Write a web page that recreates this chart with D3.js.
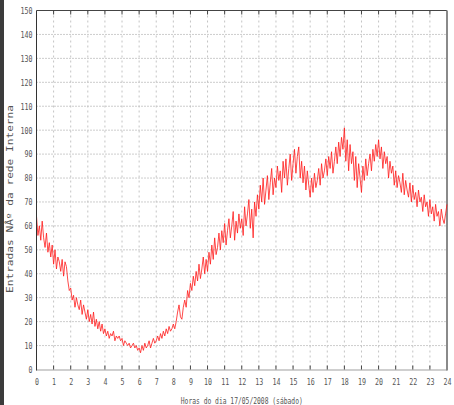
<!DOCTYPE html>
<html>
<head>
<meta charset="utf-8">
<script src="https://cdn.jsdelivr.net/npm/d3@7"></script>
<style>
  body { margin: 0; background: #fff; }
  svg text { font-family: "DejaVu Sans Mono", monospace; fill: #555; }
</style>
</head>
<body>
<div id="chart"></div>
<script>
var svgWidth = 454;
var svgHeight = 405;

var margin = { top: 10.5, right: 7, bottom: 35.5, left: 36.5 };
var width = svgWidth - margin.left - margin.right;
var height = svgHeight - margin.top - margin.bottom;

// tick labels
var hourTicks = d3.range(0, 25);
var countTicks = [0, 10, 20, 30, 40, 50, 60, 70, 80, 90, 100, 110, 120, 130, 140, 150];

// one reading every 5 minutes, 00:00 to 24:00
var sampleMinutes = 5;
var entradas = [
  64, 56, 60, 54, 62, 55, 51, 57, 49, 53, 47, 52,
  44, 50, 42, 47, 45, 41, 46, 39, 45, 43, 37, 33,
  34, 29, 31, 26, 30, 27, 25, 29, 23, 27, 24, 21,
  25, 20, 23, 19, 24, 18, 21, 17, 20, 16, 19, 15,
  17, 14, 16, 13, 15, 14, 16, 12, 14, 13, 14, 12,
  13, 10, 12, 11, 10, 11, 9, 10, 11, 9, 10, 8,
  9, 7, 10, 8, 11, 9, 10, 12, 9, 11, 13, 11,
  12, 14, 12, 15, 13, 16, 14, 17, 15, 18, 16, 17,
  19, 17, 20, 24, 27, 22, 21, 26, 29, 26, 33, 30,
  36, 33, 39, 35, 41, 37, 44, 38, 42, 47, 40, 46,
  41, 49, 44, 52, 46, 55, 48, 51, 57, 50, 58, 53,
  61, 52, 58, 63, 55, 60, 66, 54, 62, 57, 65, 59,
  63, 56, 68, 60, 65, 71, 59, 67, 55, 70, 64, 73,
  67, 77, 70, 80, 69, 75, 81, 71, 78, 84, 73, 80,
  76, 85, 79, 83, 74, 87, 80, 88, 77, 84, 90, 79,
  86, 92, 82, 89, 93, 80, 87, 78, 85, 75, 83, 77,
  72, 80, 74, 82, 76, 79, 84, 77, 86, 80, 83, 88,
  81, 89, 84, 91, 82, 87, 93, 86, 95, 89, 97, 92,
  101, 87, 96, 83, 94, 86, 91, 79, 89, 76, 86, 80,
  74, 85, 79, 88, 81, 86, 90, 83, 92, 87, 94, 89,
  96, 88, 93, 84, 91, 86, 89, 80, 87, 82, 85, 77,
  83, 76, 81, 78, 74, 82, 73, 79, 75, 72, 78, 70,
  77, 71, 74, 68, 75, 70, 72, 66, 73, 68, 70, 64,
  71, 65, 68, 62, 69, 64, 66, 60, 67, 63, 61, 65,
  69
];

var xLabel = "Horas do dia 17/05/2008 (sábado)";
var yLabel = "Entradas NÂº da rede Interna";

var svg = d3.select("#chart")
  .append("svg")
  .attr("width", svgWidth)
  .attr("height", svgHeight);

// dark strip on the left edge
svg.append("rect")
  .attr("x", 0).attr("y", 0)
  .attr("width", 4).attr("height", svgHeight)
  .attr("fill", "#3b3b3b");

var chartGroup = svg.append("g")
  .attr("transform", `translate(${margin.left}, ${margin.top})`);

var x = d3.scaleLinear().domain([0, 24]).range([0, width]);
var y = d3.scaleLinear().domain([0, 150]).range([height, 0]);

// grid
chartGroup.append("g")
  .selectAll("line")
  .data(countTicks.slice(1, -1))
  .enter().append("line")
  .attr("x1", 0).attr("x2", width)
  .attr("y1", d => y(d)).attr("y2", d => y(d))
  .attr("stroke", "#9a9a9a")
  .attr("stroke-dasharray", "1,2");

chartGroup.append("g")
  .selectAll("line")
  .data(hourTicks.slice(1, -1))
  .enter().append("line")
  .attr("x1", d => x(d)).attr("x2", d => x(d))
  .attr("y1", 0).attr("y2", height)
  .attr("stroke", "#c4c4c4")
  .attr("stroke-dasharray", "2,3");

// frame
chartGroup.append("line")
  .attr("x1", 0).attr("x2", width).attr("y1", height + 0.5).attr("y2", height + 0.5)
  .attr("stroke", "#cfcfcf").attr("stroke-width", 2);
chartGroup.append("line")
  .attr("x1", 0).attr("x2", width).attr("y1", 0).attr("y2", 0)
  .attr("stroke", "#444");
chartGroup.append("line")
  .attr("x1", width).attr("x2", width).attr("y1", 0).attr("y2", height + 1)
  .attr("stroke", "#8a8a8a").attr("stroke-width", 2);

// tick marks top and bottom
chartGroup.append("g")
  .selectAll("line")
  .data(hourTicks.slice(1, -1))
  .enter().append("line")
  .attr("x1", d => x(d)).attr("x2", d => x(d))
  .attr("y1", 0).attr("y2", 4)
  .attr("stroke", "#444");
chartGroup.append("g")
  .selectAll("line")
  .data(hourTicks.slice(1, -1))
  .enter().append("line")
  .attr("x1", d => x(d)).attr("x2", d => x(d))
  .attr("y1", height).attr("y2", height - 4)
  .attr("stroke", "#444");

// data line
var line = d3.line()
  .x((d, i) => x(i * sampleMinutes / 60))
  .y(d => y(d));

chartGroup.append("path")
  .datum(entradas)
  .attr("fill", "none")
  .attr("stroke", "#ff1a1a")
  .attr("stroke-width", 0.8)
  .attr("d", line);

// left axis line
chartGroup.append("line")
  .attr("x1", 0).attr("x2", 0).attr("y1", 0).attr("y2", height + 1)
  .attr("stroke", "#333");

// axes
var bottomAxis = d3.axisBottom(x).tickValues(hourTicks).tickSize(0).tickPadding(9);
var leftAxis = d3.axisLeft(y).tickValues(countTicks).tickSize(0).tickPadding(4);

var xAxisG = chartGroup.append("g")
  .attr("transform", `translate(0, ${height})`)
  .call(bottomAxis);
var yAxisG = chartGroup.append("g")
  .call(leftAxis);

[xAxisG, yAxisG].forEach(function(g) {
  g.select(".domain").remove();
  g.selectAll("text")
    .attr("font-family", "DejaVu Sans Mono")
    .attr("font-size", 9)
    .attr("fill", "#555")
    .attr("textLength", d => String(d).length * 4)
    .attr("lengthAdjust", "spacingAndGlyphs");
});

// axis labels
svg.append("text")
  .attr("x", margin.left + width / 2)
  .attr("y", 404)
  .attr("text-anchor", "middle")
  .attr("font-size", 9)
  .attr("textLength", 122)
  .attr("lengthAdjust", "spacingAndGlyphs")
  .text(xLabel);

svg.append("text")
  .attr("transform", "translate(13, 199) rotate(-90)")
  .attr("text-anchor", "middle")
  .attr("font-size", 8)
  .attr("fill", "#666")
  .attr("textLength", 188)
  .attr("lengthAdjust", "spacingAndGlyphs")
  .text(yLabel);
</script>
</body>
</html>
